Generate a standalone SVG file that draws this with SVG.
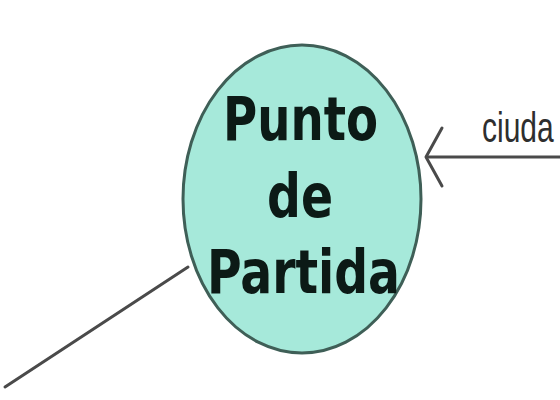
<svg xmlns="http://www.w3.org/2000/svg" width="560" height="400" viewBox="0 0 560 400">
<style>
.conn{stroke:#4a4a4a;stroke-width:3;fill:none;stroke-linecap:round;stroke-linejoin:round}
.node{fill:#a6e9da;stroke:#3f5f57;stroke-width:3}
.lbl{font-family:"DejaVu Sans Condensed","DejaVu Sans","Liberation Sans",sans-serif;font-weight:bold;font-size:60px;fill:#0c1a16}
.elbl{font-family:"Liberation Sans",sans-serif;font-size:30px;fill:#2e2e2e}
</style>
<rect width="560" height="400" fill="#ffffff"/>
<g id="connectors">
<line class="conn" x1="5" y1="387" x2="188" y2="267"/>
<line class="conn" x1="427" y1="157" x2="560" y2="157"/>
<polyline class="conn" points="442,128 426,157 442,186"/>
<text class="elbl" transform="translate(482,142) scale(1,1.4)" x="0" y="0">ciuda</text>
</g>
<g id="punto-de-partida">
<ellipse class="node" cx="302" cy="199" rx="119" ry="154"/>
<text class="lbl" x="223" y="140" textLength="155" lengthAdjust="spacingAndGlyphs">Punto</text>
<text class="lbl" x="267" y="217" textLength="66" lengthAdjust="spacingAndGlyphs">de</text>
<text class="lbl" x="207" y="293" textLength="193" lengthAdjust="spacingAndGlyphs">Partida</text>
</g>
</svg>
